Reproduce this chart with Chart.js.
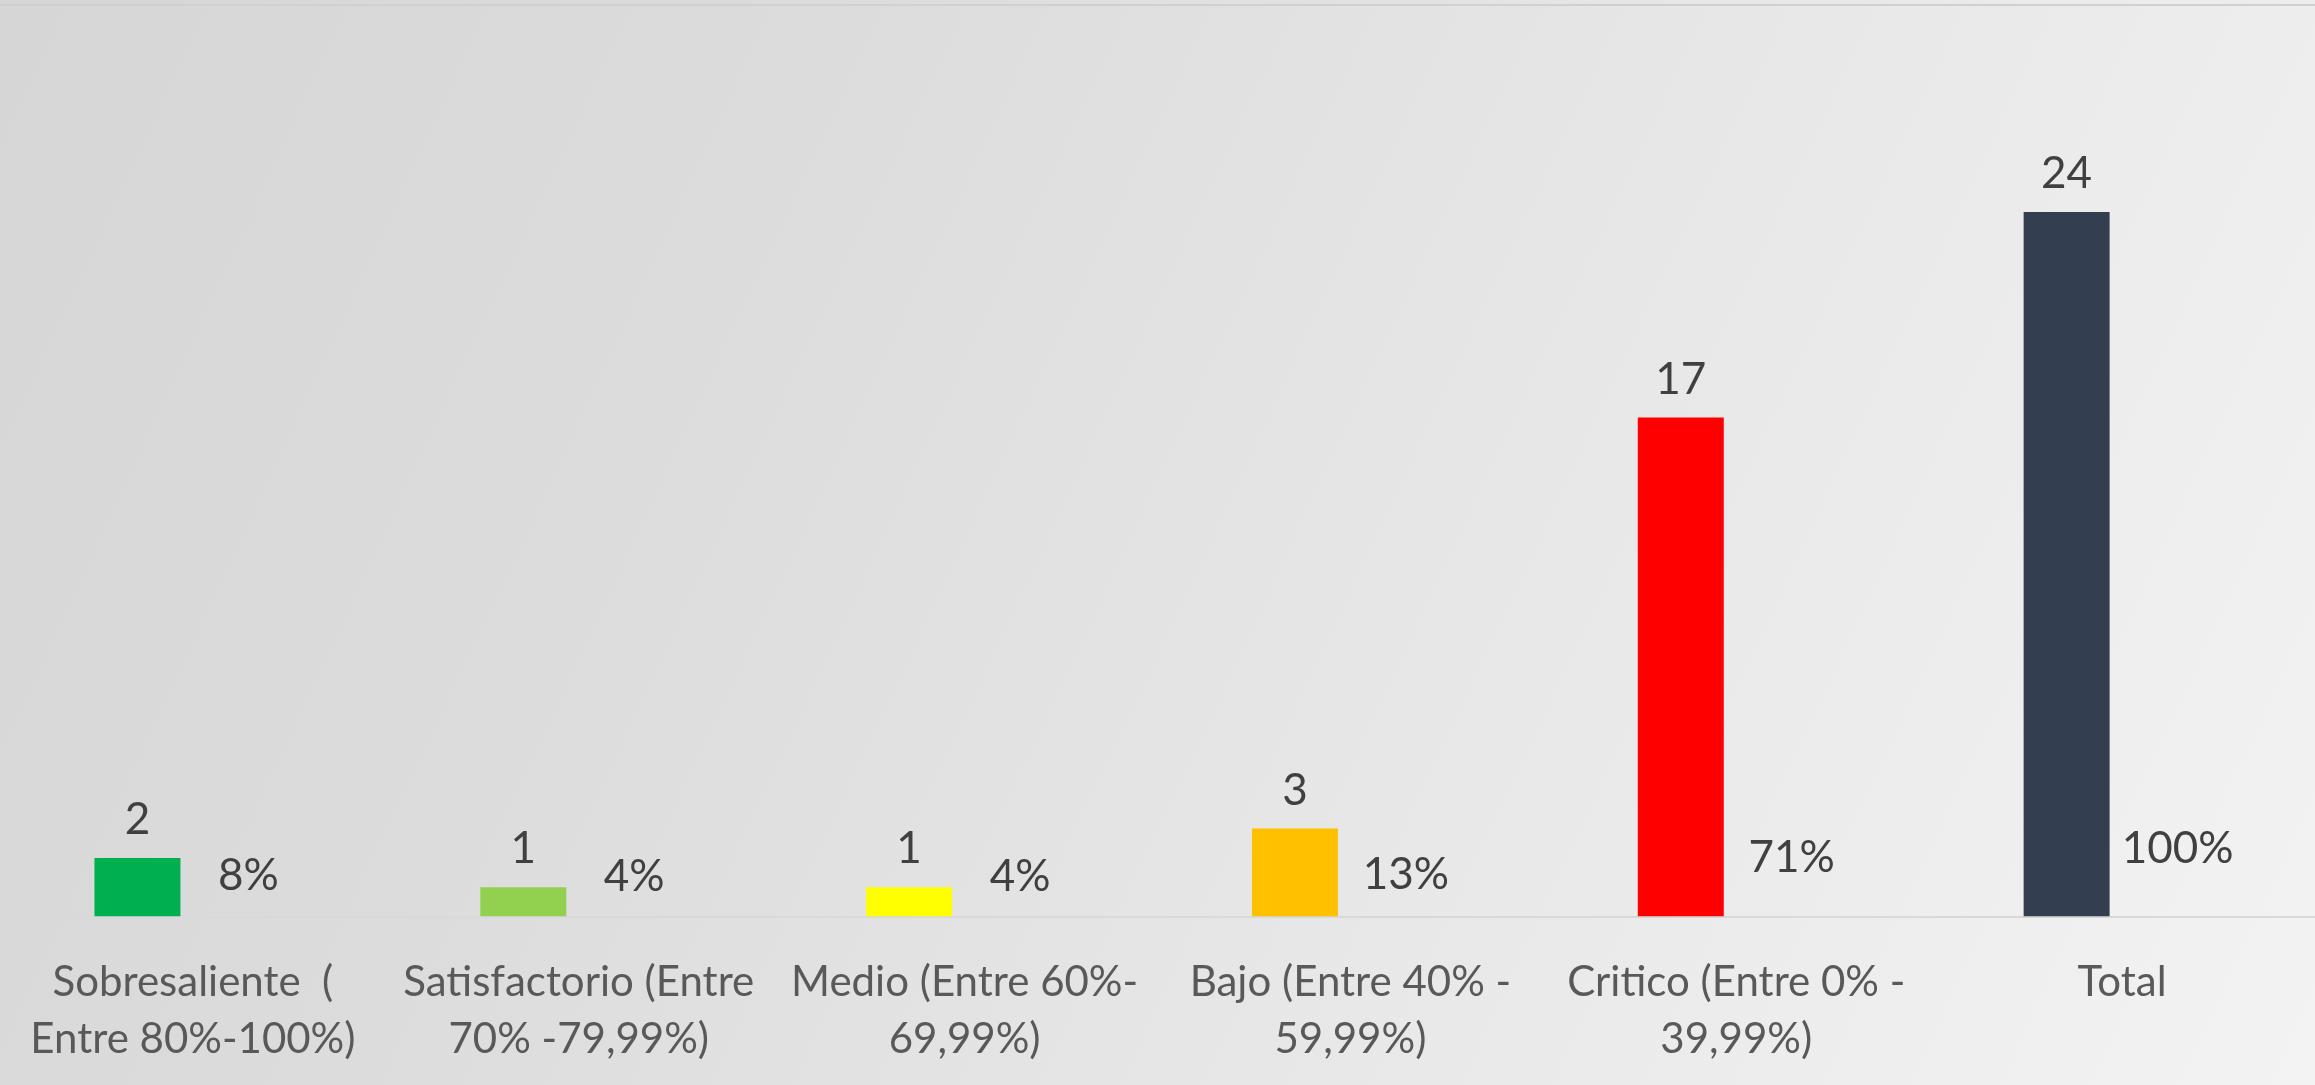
<!DOCTYPE html>
<html>
<head>
<meta charset="utf-8">
<script src="https://cdn.jsdelivr.net/npm/chart.js@4/dist/chart.umd.min.js"></script>
<style>
    html, body {
        margin: 0;
        padding: 0;
    }
    body {
        width: 2315px;
        height: 1085px;
        overflow: hidden;
        background: linear-gradient(115deg, #d6d6d6 0%, #dcdcdc 30%, #e8e8e8 65%, #f3f3f3 100%);
    }
    #topLine {
        position: absolute;
        left: 0;
        top: 4px;
        width: 2315px;
        height: 0;
        border-top: 2px solid #d0d0d0;
    }
    #chartBox {
        position: absolute;
        left: 0;
        top: 0;
        width: 2315px;
        height: 1085px;
    }
</style>
</head>
<body>
<div id="topLine"></div>
<div id="chartBox"><canvas id="resultChart"></canvas></div>
<script>
let categories = [
    ['Sobresaliente  (', 'Entre 80%-100%)'],
    ['Satisfactorio (Entre', '70% -79,99%)'],
    ['Medio (Entre 60%-', '69,99%)'],
    ['Bajo (Entre 40% -', '59,99%)'],
    ['Critico (Entre 0% -', '39,99%)'],
    'Total'
];
let counts = [2, 1, 1, 3, 17, 24];
let shares = [0.08, 0.04, 0.04, 0.13, 0.71, 1.00];
let barColors = ['#00B050', '#92D050', '#FFFF00', '#FFC000', '#FF0000', '#333F50'];

let valueLabels = {
    id: 'valueLabels',
    afterDatasetsDraw(chart) {
        let ctx = chart.ctx;
        ctx.save();
        ctx.font = '44px Lato';
        ctx.fillStyle = '#404040';
        ctx.textAlign = 'center';
        ctx.textBaseline = 'alphabetic';
        chart.data.datasets.forEach((dataset, i) => {
            let meta = chart.getDatasetMeta(i);
            meta.data.forEach((bar, j) => {
                let value = dataset.data[j];
                let text = i === 0 ? String(value) : Math.round(value * 100) + '%';
                ctx.fillText(text, bar.x, bar.y - 24);
            });
        });
        ctx.restore();
    }
};

let ctx = document.getElementById('resultChart').getContext('2d');
new Chart(ctx, {
    type: 'bar',
    data: {
        labels: categories,
        datasets: [{
            label: 'Cantidad',
            data: counts,
            backgroundColor: barColors,
            barPercentage: 0.775,
            categoryPercentage: 0.575
        }, {
            label: 'Porcentaje',
            data: shares,
            backgroundColor: 'rgba(0, 0, 0, 0)',
            barPercentage: 0.775,
            categoryPercentage: 0.575
        }]
    },
    options: {
        responsive: true,
        maintainAspectRatio: false,
        animation: false,
        layout: {
            padding: { top: 36, bottom: -13, left: -13, right: -2 }
        },
        plugins: {
            legend: { display: false },
            tooltip: { enabled: false }
        },
        scales: {
            x: {
                grid: { display: false },
                border: { display: true, color: '#d9d9d9', width: 2 },
                ticks: {
                    color: '#595959',
                    font: { family: 'Lato', size: 42, lineHeight: 1.35 },
                    padding: 30,
                    maxRotation: 0,
                    autoSkip: false
                }
            },
            y: {
                display: false,
                min: 0,
                max: 30
            }
        }
    },
    plugins: [valueLabels]
});
</script>
</body>
</html>
